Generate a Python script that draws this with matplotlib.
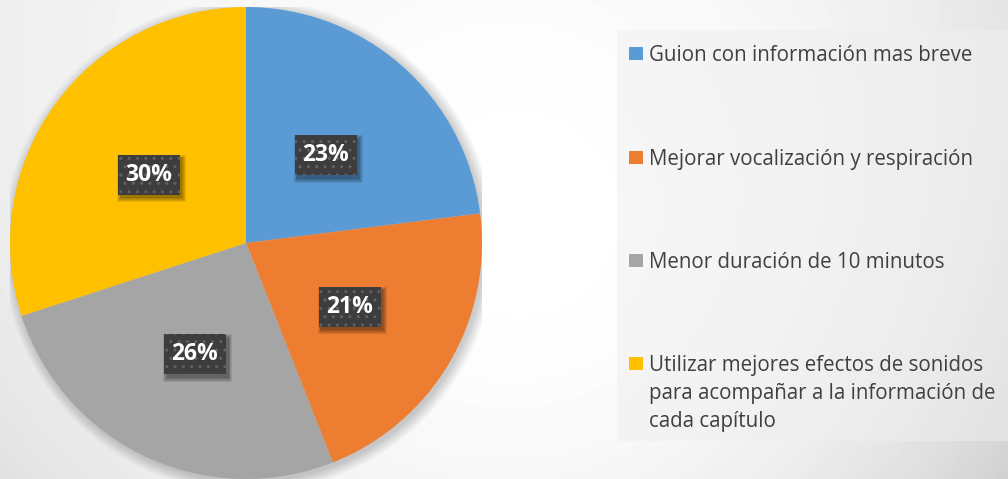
import numpy as np
import matplotlib.pyplot as plt
from matplotlib.patches import Rectangle, Circle

# datos
categorias = ['Guion con información mas breve',
              'Mejorar vocalización y respiración',
              'Menor duración de 10 minutos',
              'Utilizar mejores efectos de sonidos\npara acompañar a la información de\ncada capítulo']
porcentajes = [23, 21, 26, 30]
colores = ['#5B9BD5', '#ED7D31', '#A5A5A5', '#FFC000']

W, H = 1008, 479
fig = plt.figure(figsize=(W / 100, H / 100), dpi=100)

# fondo con degradado gris
bg = fig.add_axes([0, 0, 1, 1])
xx, yy = np.meshgrid(np.linspace(0, 1, W), np.linspace(0, 1, H))
tl, tr, bl, br = 236, 222, 224, 201
base = tl * (1 - xx) * (1 - yy) + tr * xx * (1 - yy) + bl * (1 - xx) * yy + br * xx * yy
r = np.hypot(xx * W - 520, yy * H - 220)
s = np.clip(r / 600, 0, 1) ** 2
val = 255 - (255 - base) * s
bg.imshow(val, cmap='gray', vmin=0, vmax=255, aspect='auto', extent=[0, 1, 1, 0],
          interpolation='bilinear')
bg.set_xlim(0, 1)
bg.set_ylim(1, 0)
bg.axis('off')

# caja de la leyenda
bg.add_patch(Rectangle((617 / W, 30 / H), (W - 617) / W, 411 / H,
                       facecolor='#efefef', alpha=0.5, edgecolor='none'))

# torta
ax = fig.add_axes([10 / W, 0, 472 / W, 472 / H])
for k in range(10):
    ax.add_patch(Circle((0.012, -0.012), 1.0 + 0.005 * k, facecolor='#000000',
                        alpha=0.018, edgecolor='none', zorder=0))
wedges, textos, autotextos = ax.pie(
    porcentajes, colors=colores, startangle=90, counterclock=False,
    autopct='%1.0f%%', pctdistance=0.51, radius=1,
    wedgeprops=dict(linewidth=0),
    textprops=dict(color='white', fontsize=16.5, fontweight='bold', family='Open Sans'))
for w in wedges:
    w.set_zorder(2)

# cajas oscuras de las etiquetas (62x40 px)
bw, bh = 62 / 236, 40 / 236
for t in autotextos:
    t.set_zorder(6)
    cx, cy = t.get_position()
    cy -= 0.01
    t.set_y(cy)
    for k in range(5):
        g = 0.004 * k
        ax.add_patch(Rectangle((cx - bw / 2 + 0.012 - g, cy - bh / 2 - 0.016 - g),
                               bw + 2 * g, bh + 2 * g, facecolor='black',
                               alpha=0.09, edgecolor='none', zorder=3))
    ax.add_patch(Rectangle((cx - bw / 2, cy - bh / 2), bw, bh, facecolor='#3d3d3d',
                           edgecolor='#616161', linewidth=0, hatch='..', zorder=4))
ax.set_xlim(-1, 1)
ax.set_ylim(-1, 1)
ax.set_aspect('equal')
ax.axis('off')

# leyenda dibujada a mano
filas_y = [53.5, 157, 260, 363]
for lab, col, yc in zip(categorias, colores, filas_y):
    bg.add_patch(Rectangle((629 / W, (yc - 6.5) / H), 14 / W, 13 / H,
                           facecolor=col, edgecolor='none'))
    for i, linea in enumerate(lab.split('\n')):
        bg.text(649 / W, (yc + 7.5 + 28 * i) / H, linea, fontsize=14.8,
                family='Open Sans', color='#404040', va='baseline', ha='left')

fig.savefig('out.png', dpi=100)
